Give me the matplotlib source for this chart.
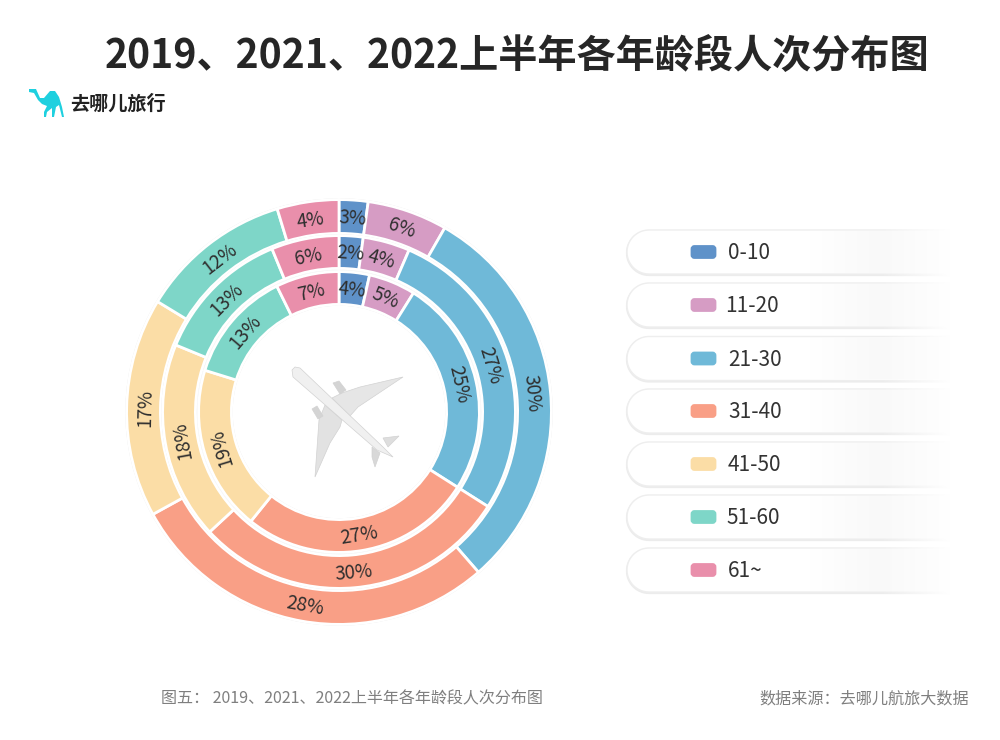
import math
import numpy as np
import matplotlib
matplotlib.use("Agg")
import matplotlib.pyplot as plt
from matplotlib.patches import FancyBboxPatch, Polygon, Rectangle

plt.rcParams['font.family'] = ['Noto Sans CJK SC', 'DejaVu Sans']

title = "2019、2021、2022上半年各年龄段人次分布图"
brand = "去哪儿旅行"
footer_left = "图五： 2019、2021、2022上半年各年龄段人次分布图"
footer_right = "数据来源：去哪儿航旅大数据"

categories = ["0-10", "11-20", "21-30", "31-40", "41-50", "51-60", "61~"]
colors = ["#5F92C9", "#D69CC4", "#6FB9D8", "#F99F86", "#FBDDA6", "#7ED6C8", "#E98FAB"]
# printed labels
outer_labels = [3, 6, 30, 28, 17, 12, 4]
middle_labels = [2, 4, 27, 30, 18, 13, 6]
inner_labels = [4, 5, 25, 27, 19, 13, 7]
# slice sizes as drawn in the picture (they differ a little from the printed labels)
outer_values = [2.2, 6.1, 30.3, 28.4, 16.7, 11.6, 4.7]
middle_values = [2.2, 4.3, 27.5, 29.1, 18.1, 12.6, 6.2]
inner_values = [3.5, 5.4, 25.1, 26.8, 19.0, 12.9, 7.3]

W, H = 1000, 740
fig = plt.figure(figsize=(W / 100, H / 100), dpi=100, facecolor="white")
bg = fig.add_axes([0, 0, 1, 1])
bg.set_xlim(0, W)
bg.set_ylim(H, 0)
bg.axis("off")

# titles
bg.text(105, 57.5, title, fontsize=28.2, fontweight="bold", color="#262626", ha="left", va="center")
bg.text(70, 104, brand, fontsize=13.8, fontweight="bold", color="#222222", ha="left", va="center")

# logo
camel = [(29, 89), (36, 89), (40, 98), (44, 98), (50, 91), (55, 91), (59, 97), (62, 107), (64, 117),
         (62, 117), (59, 105), (56, 107), (54, 117), (52, 117), (52, 108), (47, 112), (46, 117),
         (44, 117), (44, 112), (47, 106), (42, 104), (38, 100), (34, 93), (29, 92)]
bg.add_patch(Polygon(camel, closed=True, fc="#1FD0DF", ec="none"))

# plane
plane_parts = [
    ([(403, 377), (360, 387), (342, 393), (332, 398), (350, 416), (358, 407), (373, 397)], "#e6e6e6"),
    ([(315, 477), (319, 420), (325, 405), (342, 420), (340, 427), (330, 443)], "#e2e2e2"),
    ([(383, 438), (399, 436), (388, 447)], "#dedede"),
    ([(372, 447), (380, 453), (375, 467), (372, 457)], "#d8d8d8"),
    ([(333, 383), (339, 381), (346, 390), (340, 394)], "#d4d4d4"),
    ([(312, 409), (317, 406), (323, 416), (318, 419)], "#d4d4d4"),
    ([(292, 370), (295, 367), (300, 368), (383, 447), (393, 457), (377, 450), (293, 377)], "#f0f0f0"),
]
for pts, c in plane_parts:
    bg.add_patch(Polygon(pts, closed=True, fc=c, ec="#d2d2d2", lw=0.5, zorder=3))


def pill_points(x0, x1, yc, r):
    a = np.linspace(np.pi / 2, 3 * np.pi / 2, 40)
    left = [(x0 + r + r * np.cos(t), yc - r * np.sin(t)) for t in a]
    return left + [(x1, yc + r), (x1, yc - r)]


# legend pills
pill_centres = [252, 305, 358.5, 411, 464, 517, 570]
text_left = [728, 725, 728, 728, 728, 726, 728]
gradient = np.zeros((1, 256, 4))
gradient[..., :3] = 0.98
gradient[..., 3] = np.interp(np.linspace(0, 1, 256), [0, 0.5, 1], [0, 1, 1])
fade = np.ones((1, 256, 4))
fade[..., 3] = np.linspace(0, 1, 256)
for yc, c, lab, tx in zip(pill_centres, colors, categories, text_left):
    bg.add_patch(Polygon(pill_points(627, 1000, yc + 1, 22), closed=True, fc="white", ec="#ececec", lw=1.6, zorder=1))
    bg.add_patch(Polygon(pill_points(627, 1000, yc, 22), closed=True, fc="white", ec="#eeeeee", lw=1.0, zorder=1.1))
    bg.imshow(gradient, extent=(810, 950, yc + 21, yc - 21), aspect="auto", zorder=1.3, interpolation="bilinear")
    bg.imshow(fade, extent=(880, 950, yc + 25, yc - 25), aspect="auto", zorder=1.4, interpolation="bilinear")
    bg.add_patch(Rectangle((950, yc - 26), 60, 52, fc="white", ec="none", zorder=1.5))
    bg.add_patch(FancyBboxPatch((692, yc - 5.5), 23, 11, boxstyle="round,pad=0,rounding_size=2.5",
                                fc=c, ec=c, lw=2, zorder=2))
    bg.text(tx, yc + 1, lab, fontsize=15, color="#333333", ha="left", va="center", zorder=2)
bg.set_xlim(0, W)
bg.set_ylim(H, 0)

# footer
bg.text(161, 699, footer_left, fontsize=11.55, color="#7f7f7f", ha="left", va="center")
bg.text(969, 699, footer_right, fontsize=11.6, color="#7f7f7f", ha="right", va="center")

# donuts
cx, cy, half = 339, 412, 225
pie_ax = fig.add_axes([(cx - half) / W, 1 - (cy + half) / H, 2 * half / W, 2 * half / H])
pie_ax.patch.set_alpha(0)
rings = [(outer_values, outer_labels, 213, 35), (middle_values, middle_labels, 177, 34),
         (inner_values, inner_labels, 141, 34)]
for values, labels, radius, width in rings:
    pie_ax.pie(values, radius=radius, colors=["#dcdcdc"] * len(values), startangle=90, counterclock=False,
               wedgeprops=dict(width=width, edgecolor="#e3e3e3", linewidth=1.0))
    pie_ax.pie(values, radius=radius - 0.6, colors=colors, startangle=90, counterclock=False,
               wedgeprops=dict(width=width - 1.2, edgecolor="white", linewidth=2.0))
    cum = 0
    total = sum(values)
    for v, lab in zip(values, labels):
        theta = (cum + v / 2) / total * 360
        cum += v
        r = radius - width / 2
        if theta < 90:
            rot = -theta
        elif theta < 200:
            rot = 180 - theta
        else:
            rot = 360 - theta
        # small shift along the text's own downward direction
        x = r * math.sin(math.radians(theta)) + 1.5 * math.sin(math.radians(rot))
        y = r * math.cos(math.radians(theta)) - 1.5 * math.cos(math.radians(rot))
        pie_ax.text(x, y, f"{lab}%", rotation=rot, rotation_mode="anchor", ha="center", va="center",
                    fontsize=13.5, color="#2f2f2f")
pie_ax.set_xlim(-half, half)
pie_ax.set_ylim(-half, half)
pie_ax.set_aspect("equal")
pie_ax.axis("off")

fig.savefig("out.png", dpi=100, facecolor="white")
